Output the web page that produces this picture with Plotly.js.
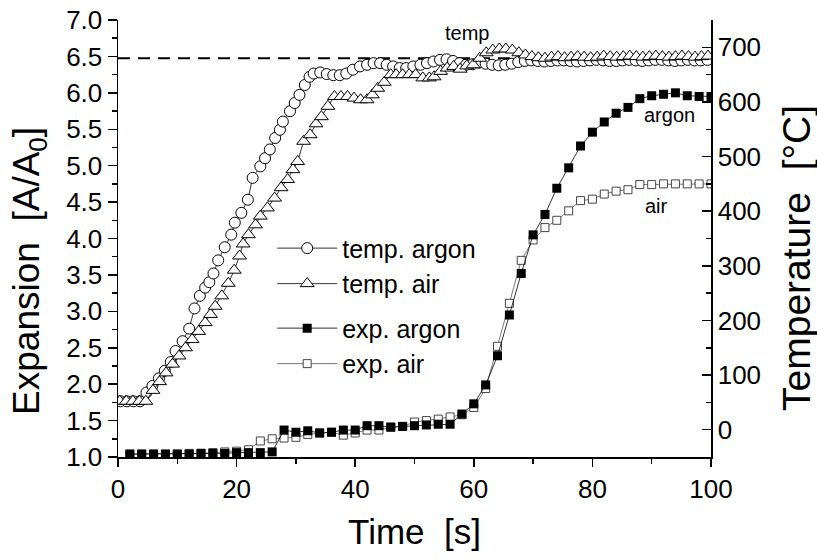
<!DOCTYPE html>
<html><head><meta charset="utf-8">
<script src="https://cdn.plot.ly/plotly-3.0.1.min.js"></script>
<style>html,body{margin:0;padding:0;background:#fff}</style>
</head><body>
<div id="chart" style="width:817px;height:559px"></div>
<script>
// Expansion data (left axis)
const expTime = [2,4,6,8,10,12,14,16,18,20,22,24,26,28,30,32,34,36,38,40,42,44,46,48,50,52,54,56,58,60,62,64,66,68,70,72,74,76,78,80,82,84,86,88,90,92,94,96,98,100];
const expArgon = [1.04,1.04,1.04,1.04,1.04,1.04,1.05,1.05,1.05,1.06,1.06,1.06,1.07,1.37,1.34,1.36,1.33,1.34,1.37,1.37,1.43,1.43,1.41,1.42,1.43,1.44,1.45,1.45,1.59,1.73,1.99,2.39,2.95,3.52,4.05,4.33,4.69,4.97,5.27,5.46,5.60,5.72,5.80,5.92,5.96,5.98,6.00,5.96,5.95,5.95];
const expAir = [1.04,1.04,1.04,1.04,1.04,1.05,1.05,1.06,1.07,1.08,1.10,1.22,1.25,1.26,1.27,1.31,1.33,1.34,1.30,1.33,1.37,1.37,1.41,1.42,1.48,1.50,1.52,1.55,1.58,1.68,1.94,2.52,3.11,3.70,3.98,4.15,4.25,4.38,4.52,4.54,4.61,4.65,4.67,4.74,4.74,4.75,4.75,4.75,4.75,4.75];

// Temperature data (right axis, °C)
const tempArgonTime = [0.4,1.5,2.6,3.7,4.8,5.8,6.9,7.9,8.9,9.7,10.9,12.0,12.9,13.8,14.7,15.4,16.1,16.9,18.0,19.1,19.7,20.8,21.9,22.7,24.0,24.8,25.6,26.5,27.3,27.8,29.0,29.8,30.6,31.5,32.3,33.0,34.1,35.2,36.3,37.4,38.5,39.6,40.8,42.0,43.1,44.2,45.3,46.4,47.5,48.6,49.8,51.0,52.1,53.2,54.3,55.4,56.5,57.6,58.7,59.8,60.9,62.0,63.1,64.2,65.3,66.4,67.5,68.6,69.7,70.8,71.9,73.0,74.1,75.2,76.3,77.4,78.5,79.6,80.7,81.8,82.9,84.0,85.1,86.2,87.3,88.4,89.5,90.6,91.7,92.8,93.9,95.0,96.1,97.2,98.3,99.4];
const tempArgon = [52,52,52,52,68,80,94,108,124,144,162,185,222,245,260,270,286,310,334,357,379,397,421,461,482,497,513,534,549,564,583,598,613,631,646,652,654,651,649,649,652,659,665,668,671,671,668,665,662,662,665,668,671,674,677,678,675,671,668,669,672,670,668,667,668,670,673,675,676,675,674,675,676,676,675,674,675,676,677,676,675,675,676,677,676,675,676,677,677,676,675,676,677,676,676,677];
const tempAirTime = [0.3,1.4,2.5,3.6,4.7,5.9,7.0,8.1,9.2,10.3,11.4,12.5,13.6,14.7,15.6,16.4,17.5,18.6,19.6,20.5,21.1,22.0,23.2,24.0,25.2,26.4,27.5,28.6,29.5,30.3,31.3,32.4,33.4,34.3,35.4,36.5,37.6,38.7,39.8,40.9,42.0,42.9,43.8,44.9,46.0,46.9,48.0,49.1,50.2,51.4,52.5,53.3,54.4,55.5,56.6,57.7,58.8,59.9,61.0,62.1,63.2,64.3,65.4,66.5,67.6,68.7,69.8,70.9,72.0,73.1,74.2,75.3,76.4,77.5,78.6,79.7,80.8,81.9,83.0,84.1,85.2,86.3,87.4,88.5,89.6,90.7,91.8,92.9,94.0,95.1,96.2,97.3,98.4,99.5];
const tempAir = [52,52,52,52,52,72,88,104,120,135,150,165,180,196,211,226,245,268,292,318,340,357,375,391,406,424,443,458,476,491,528,540,560,573,592,610,610,610,607,604,604,613,625,636,650,650,650,650,650,644,644,646,656,662,665,660,666,668,680,690,695,697,697,695,690,686,683,681,680,682,683,681,682,683,682,681,682,684,683,682,683,684,683,682,683,684,683,682,683,684,683,682,683,684];

const refTemp = 680;
const seriesNames = ['temp. argon','temp. air','exp. argon','exp. air'];
const labelTexts = ['temp','argon','air'];
const axisTitles = ['Time  [s]', 'Expansion  [A/A<sub>0</sub>]', 'Temperature  [°C]'];

const F = 'Arial, "Liberation Sans", sans-serif';

const traces = [
  {x: tempArgonTime, y: tempArgon, yaxis: 'y2', name: seriesNames[0], legendgroup: 'temp', legendrank: 1,
   mode: 'lines+markers', line: {color: '#000', width: 0.8},
   marker: {symbol: 'circle', size: 11, color: '#fff', line: {color: '#000', width: 1}}},
  {x: tempAirTime, y: tempAir, yaxis: 'y2', name: seriesNames[1], legendgroup: 'temp', legendrank: 2,
   mode: 'lines+markers', line: {color: '#000', width: 0.8},
   marker: {symbol: 'triangle-up', size: 12, color: '#fff', line: {color: '#000', width: 1}}},
  {x: expTime, y: expArgon, name: seriesNames[2], legendgroup: 'exp', legendrank: 3,
   mode: 'lines+markers', line: {color: '#000', width: 0.8},
   marker: {symbol: 'square', size: 9, color: '#000', line: {color: '#000', width: 0}}},
  {x: expTime, y: expAir, name: seriesNames[3], legendgroup: 'exp', legendrank: 4,
   mode: 'lines+markers', line: {color: '#555', width: 0.8},
   marker: {symbol: 'square', size: 8, color: '#fff', line: {color: '#444', width: 1}}}
];
// draw argon squares on top of air squares
const order = [traces[0], traces[1], traces[3], traces[2]];

const layout = {
  width: 817, height: 559,
  margin: {l: 118, r: 106, t: 20, b: 102},
  paper_bgcolor: '#fff', plot_bgcolor: '#fff',
  font: {family: F, color: '#000', size: 26},
  showlegend: true,
  legend: {x: 0.26, y: 0.53, xanchor: 'left', yanchor: 'top', bgcolor: 'rgba(0,0,0,0)',
           font: {family: F, size: 25, color: '#000'}, traceorder: 'grouped', tracegroupgap: 9,
           itemwidth: 60},
  xaxis: {range: [0, 100], dtick: 20, showline: true, linecolor: '#000', linewidth: 1.5,
          ticks: 'outside', ticklen: 8, tickwidth: 1.5, tickcolor: '#000',
          minor: {dtick: 10, ticks: 'outside', ticklen: 5, tickwidth: 1.5, tickcolor: '#000'},
          showgrid: false, zeroline: false, tickfont: {family: F, size: 26},
          title: {text: axisTitles[0], font: {family: F, size: 35}, standoff: 17}},
  yaxis: {range: [1, 7], dtick: 0.5, tickformat: '.1f', showline: true, linecolor: '#000', linewidth: 1.5,
          ticks: 'outside', ticklen: 9, tickwidth: 1.5, tickcolor: '#000',
          minor: {dtick: 0.25, ticks: 'outside', ticklen: 5, tickwidth: 1.5, tickcolor: '#000'},
          showgrid: false, zeroline: false, tickfont: {family: F, size: 26}},
  yaxis2: {overlaying: 'y', side: 'right', range: [-50, 750], dtick: 100, showline: true,
          linecolor: '#000', linewidth: 1.5, ticks: 'inside', ticklen: 9, tickwidth: 1.5, tickcolor: '#000',
          minor: {dtick: 50, ticks: 'inside', ticklen: 5, tickwidth: 1.5, tickcolor: '#000'},
          showgrid: false, zeroline: false, tickfont: {family: F, size: 26}},
  shapes: [{type: 'line', xref: 'paper', x0: 0, x1: 1, yref: 'y2', y0: refTemp, y1: refTemp,
            line: {color: '#000', width: 2, dash: '12px,8px'}, layer: 'below'}],
  annotations: [
    {text: labelTexts[0], x: 58.9, y: 6.82, xref: 'x', yref: 'y', showarrow: false, font: {family: F, size: 20}},
    {text: labelTexts[1], x: 93, y: 5.70, xref: 'x', yref: 'y', showarrow: false, font: {family: F, size: 20}},
    {text: labelTexts[2], x: 90.8, y: 4.44, xref: 'x', yref: 'y', showarrow: false, font: {family: F, size: 20}},
    {text: axisTitles[1], textangle: -90, xref: 'paper', yref: 'paper', x: -0.149, y: 0.425,
     xanchor: 'center', yanchor: 'middle', showarrow: false, font: {family: F, size: 37}},
    {text: axisTitles[2], textangle: -90, xref: 'paper', yref: 'paper', x: 1.143, y: 0.455,
     xanchor: 'center', yanchor: 'middle', showarrow: false, font: {family: F, size: 39}}
  ]
};

Plotly.newPlot('chart', order, layout, {displayModeBar: false, staticPlot: true});
</script>
</body></html>
